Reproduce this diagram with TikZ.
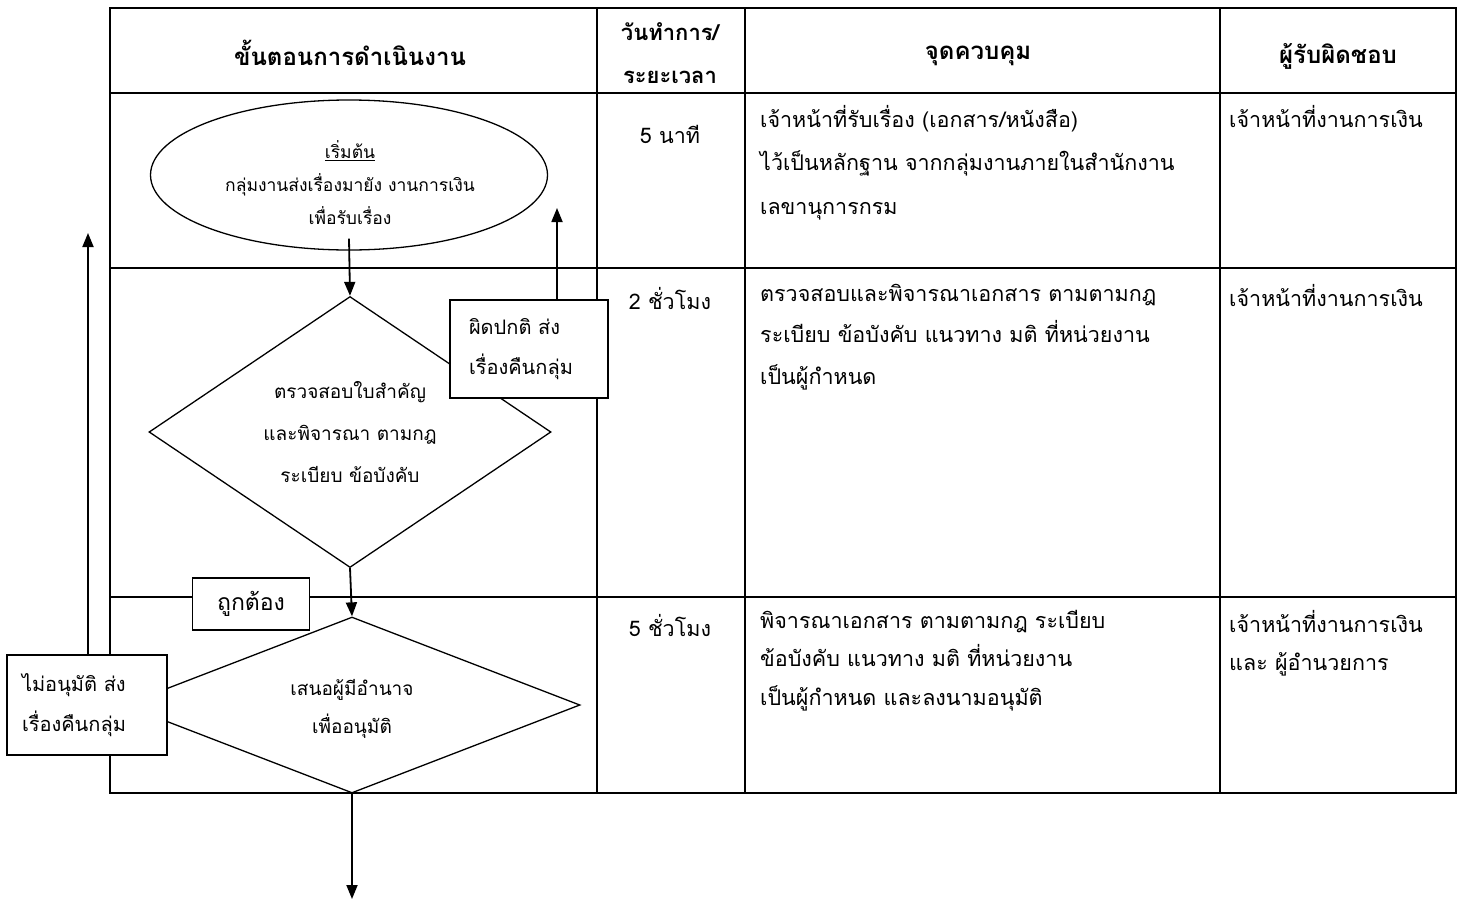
\documentclass[tikz,border=0pt]{standalone}
\usepackage{fontspec}
\setmainfont[Script=Thai]{Loma}
\usetikzlibrary{shapes.geometric,arrows.meta}
\begin{document}
\begin{tikzpicture}[x=1pt,y=-1pt,
  gridline/.style={line width=2pt},
  shapeline/.style={draw,line width=1.3pt},
  arr/.style={line width=1.8pt,-{Triangle[length=14pt,width=11pt]}},
  hdr/.style={inner sep=0pt,align=center,font=\fontsize{24}{43}\bfseries\selectfont},
  cell/.style={inner sep=0pt,align=left,anchor=north west,font=\fontsize{21.5}{43.5}\selectfont},
  timecell/.style={inner sep=0pt,align=center,font=\fontsize{21.5}{42}\selectfont},
  boxnode/.style={draw,line width=1.3pt,fill=white,inner sep=0pt,align=left,font=\fontsize{20}{40}\selectfont},
]
\useasboundingbox (0,0) rectangle (1461,900);
% table
\draw[gridline] (110,8) rectangle (1456,793);
\draw[gridline] (110,93) -- (1456,93);
\draw[gridline] (110,268) -- (1456,268);
\draw[gridline] (110,597) -- (1456,597);
\draw[gridline] (597,8) -- (597,793);
\draw[gridline] (745,8) -- (745,793);
\draw[gridline] (1220,8) -- (1220,793);
% header
\node[hdr] (h1) at (350,53) {ขั้นตอนการดำเนินงาน};
\node[hdr,font=\fontsize{22}{43}\bfseries\selectfont] (h2) at (670,53) {วันทำการ/\\ระยะเวลา};
\node[hdr] (h3) at (978,56) {จุดควบคุม};
\node[hdr] (h4) at (1338,56) {ผู้รับผิดชอบ};
% row 1
\node[ellipse,shapeline,minimum width=397pt,minimum height=150pt,inner sep=0pt] (start) at (349,175) {};
\node[inner sep=0pt,align=center,font=\fontsize{17.5}{33}\selectfont] (starttext) at (350,183) {\underline{เริ่มต้น}\\กลุ่มงานส่งเรื่องมายัง งานการเงิน\\เพื่อรับเรื่อง};
\node[timecell] (t1) at (670,134) {5 นาที};
\node[cell] (c1) at (760,105) {เจ้าหน้าที่รับเรื่อง (เอกสาร/หนังสือ)\\ไว้เป็นหลักฐาน จากกลุ่มงานภายในสำนักงาน\\เลขานุการกรม};
\node[cell] (r1) at (1229,105) {เจ้าหน้าที่งานการเงิน};
% row 2
\node[diamond,shapeline,minimum width=402pt,minimum height=271pt,inner sep=0pt] (d1) at (350,432) {};
\node[inner sep=0pt,align=center,font=\fontsize{19}{42}\selectfont] (d1text) at (350,432) {ตรวจสอบใบสำคัญ\\และพิจารณา ตามกฎ\\ระเบียบ ข้อบังคับ};
\node[timecell] (t2) at (670,298) {2 ชั่วโมง};
\node[cell,font=\fontsize{21.5}{41.5}\selectfont] (c2) at (760,284) {ตรวจสอบและพิจารณาเอกสาร ตามตามกฎ\\ระเบียบ ข้อบังคับ แนวทาง มติ ที่หน่วยงาน\\เป็นผู้กำหนด};
\node[cell] (r2) at (1229,284) {เจ้าหน้าที่งานการเงิน};
% row 3
\node[diamond,shapeline,minimum width=456pt,minimum height=176pt,inner sep=0pt] (d2) at (352,705) {};
\node[inner sep=0pt,align=center,font=\fontsize{19}{38}\selectfont] (d2text) at (352,709) {เสนอผู้มีอำนาจ\\เพื่ออนุมัติ};
\node[timecell] (t3) at (670,625) {5 ชั่วโมง};
\node[cell,font=\fontsize{21.5}{38.5}\selectfont] (c3) at (760,610) {พิจารณาเอกสาร ตามตามกฎ ระเบียบ\\ข้อบังคับ แนวทาง มติ ที่หน่วยงาน\\เป็นผู้กำหนด และลงนามอนุมัติ};
\node[cell,font=\fontsize{21.5}{38.5}\selectfont] (r3) at (1229,610) {เจ้าหน้าที่งานการเงิน\\และ ผู้อำนวยการ};
% boxes
\node[boxnode,minimum width=158pt,minimum height=98pt,text width=120pt,inner xsep=19pt] (b1) at (529,349) {ผิดปกติ ส่ง\\เรื่องคืนกลุ่ม};
\node[boxnode,minimum width=117pt,minimum height=52pt,align=center,font=\fontsize{23}{40}\selectfont] (b2) at (251,604) {ถูกต้อง};
\node[boxnode,minimum width=160pt,minimum height=100pt,text width=130pt,inner xsep=15pt] (b3) at (87,705) {ไม่อนุมัติ ส่ง\\เรื่องคืนกลุ่ม};
% connectors
\coordinate (up1) at (557,208);
\coordinate (up2) at (88,233);
\coordinate (endpt) at (352,899);
\draw[arr] ([yshift=12pt]start.south) -- (d1.north);
\draw[arr] (d1.south) -- (d2.north);
\draw[arr] (b1.north -| up1) -- (up1);
\draw[arr] (b3.north -| up2) -- (up2);
\draw[arr] (d2.south) -- (endpt);
\end{tikzpicture}
\end{document}
